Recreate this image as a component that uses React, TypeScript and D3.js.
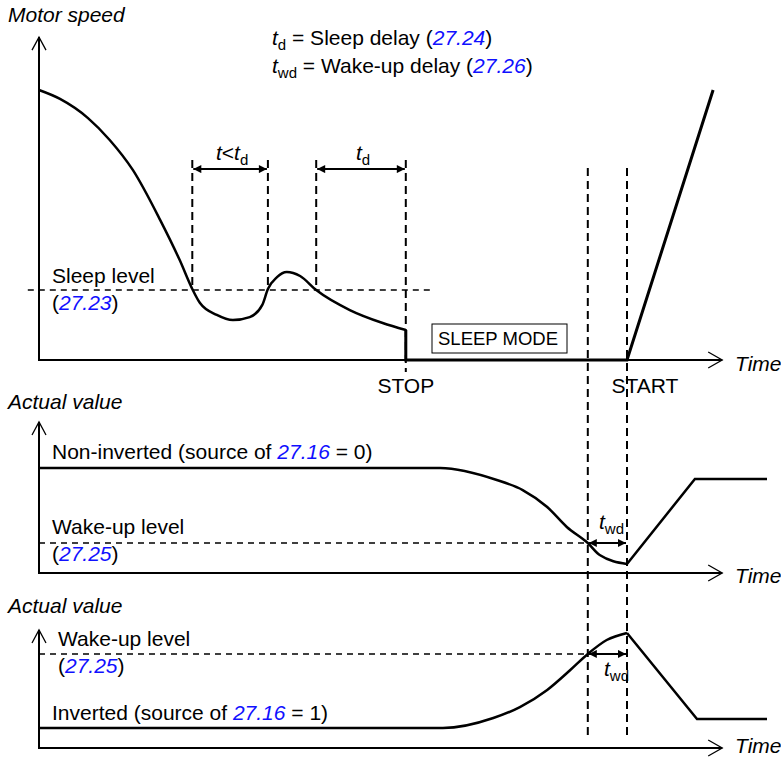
import * as d3 from 'd3';

const W = 781;
const H = 758;
const FONT = "'Liberation Sans', Arial, sans-serif";
const BLUE = '#1010ff';
const FS = 21;
const SUB = 15;

// time axis in arbitrary units (0 = vertical axis)
const timeEnd = 97.6;
const tSleepIn1 = 21.9;
const tSleepOut1 = 32.7;
const tSleepIn2 = 39.6;
const tStop = 52.4;
const tWake = 78.4;
const tStart = 84;

// motor speed (0..100)
const speedT = [0, 3, 7, 10.1, 13.4, 17.3, 20.1, 21.9, 23, 25.4, 27.7, 30.1, 31.9, 32.7, 34, 35.4, 37.3, 39.6, 44.4, 49.1, 52.4];
const speedV = [100, 96.7, 89.6, 81.5, 70.4, 51.9, 37, 26.3, 21.1, 16.7, 14.8, 15.9, 20.4, 26.3, 30.7, 32.6, 31.1, 25.9, 18.5, 13.7, 11.1];
const stopT = [52.4, 52.4, 84, 96.3];
const stopV = [11.1, 0, 0, 100];
const sleepLevel = 25.9;

// actual value, non-inverted
const nonInvT = [0, 57.3, 65.4, 69.1, 72.6, 75.4, 78.4, 80.1, 84];
const nonInvV = [70, 70, 62, 55.3, 44, 30.7, 20, 12, 6];
const nonInvRampT = [84, 93.7, 104];
const nonInvRampV = [6, 62.7, 62.7];
const wakeLevelN = 20;

// actual value, inverted
const invT = [0, 57.7, 64.9, 68.7, 72.6, 75.9, 78.4, 81.1, 84];
const invV = [13.3, 13.3, 20, 27.3, 38.7, 52, 62.7, 72, 76.7];
const invRampT = [84, 94, 104];
const invRampV = [76.7, 19.3, 19.3];
const wakeLevelI = 62.7;

type Sc = d3.ScaleLinear<number, number>;

function Axes({ x, y, yTop }: { x: Sc; y: Sc; yTop: number }) {
  const x0 = x(0), y0 = y(0), yt = y(yTop), xe = x(timeEnd);
  return (
    <g stroke="#000" fill="none">
      <line x1={x0} y1={y0} x2={x0} y2={yt} strokeWidth={2} />
      <line x1={x0 - 1} y1={y0} x2={xe} y2={y0} strokeWidth={2} />
      <polyline points={`${x0 - 7},${yt + 13} ${x0},${yt} ${x0 + 7},${yt + 13}`} strokeWidth={1.3} />
      <polyline points={`${xe - 14},${y0 - 8} ${xe},${y0} ${xe - 14},${y0 + 8}`} strokeWidth={1.3} />
    </g>
  );
}

function Sub({ main, sub, x, y, anchor = 'start' }: { main: string; sub: string; x: number; y: number; anchor?: string }) {
  return (
    <text x={x} y={y} textAnchor={anchor} fontSize={FS}>
      <tspan fontStyle="italic">{main}</tspan>
      <tspan fontSize={SUB} dy={5}>{sub}</tspan>
    </text>
  );
}

export default function App() {
  const x = d3.scaleLinear().domain([0, 100]).range([39, 739]);
  const y1 = d3.scaleLinear().domain([0, 100]).range([360, 90]);
  const y2 = d3.scaleLinear().domain([0, 100]).range([573, 423]);
  const y3 = d3.scaleLinear().domain([0, 100]).range([748, 598]);

  const curve = (ys: Sc) => d3.line<[number, number]>().x(d => x(d[0])).y(d => ys(d[1])).curve(d3.curveMonotoneX);
  const straight = (ys: Sc) => d3.line<[number, number]>().x(d => x(d[0])).y(d => ys(d[1]));
  const zip = (a: number[], b: number[]) => a.map((v, i) => [v, b[i]] as [number, number]);

  const dash = { stroke: '#000', strokeWidth: 1.6, strokeDasharray: '6 5', fill: 'none' };
  const vdash = { stroke: '#000', strokeWidth: 2, strokeDasharray: '8 5', fill: 'none' };
  const dimY = y1(70.7);
  const dimTop = y1(74.1);

  return (
    <svg width={W} height={H} style={{ position: 'absolute', left: 0, top: 0, background: '#fff' }} fontFamily={FONT}>
      <defs>
        <marker id="ah" viewBox="0 0 10 10" refX={10} refY={5} markerWidth={9} markerHeight={8}
          markerUnits="userSpaceOnUse" orient="auto-start-reverse">
          <path d="M0,0 L10,5 L0,10 z" fill="#000" />
        </marker>
      </defs>
      <rect width={W} height={H} fill="#fff" />

      {/* ---------- panel 1: motor speed ---------- */}
      <text x={8} y={22} fontSize={FS} fontStyle="italic">Motor speed</text>
      <text x={272} y={45} fontSize={FS}>
        <tspan fontStyle="italic">t</tspan><tspan fontSize={SUB} dy={5}>d</tspan>
        <tspan dy={-5}> = Sleep delay (</tspan><tspan fill={BLUE} fontStyle="italic">27.24</tspan><tspan>)</tspan>
      </text>
      <text x={272} y={73} fontSize={FS}>
        <tspan fontStyle="italic">t</tspan><tspan fontSize={SUB} dy={5}>wd</tspan>
        <tspan dy={-5}> = Wake-up delay (</tspan><tspan fill={BLUE} fontStyle="italic">27.26</tspan><tspan>)</tspan>
      </text>

      <Axes x={x} y={y1} yTop={119.6} />

      <line x1={x(-1.6)} x2={x(55.9)} y1={y1(sleepLevel)} y2={y1(sleepLevel)} {...dash} />
      {[tSleepIn1, tSleepOut1, tSleepIn2].map((t, i) => (
        <line key={i} x1={x(t)} x2={x(t)} y1={dimTop} y2={y1(sleepLevel)} {...vdash} />
      ))}
      <line x1={x(tStop)} x2={x(tStop)} y1={dimTop} y2={y1(-4.4)} {...vdash} />
      {[tWake, tStart].map((t, i) => (
        <line key={i} x1={x(t)} x2={x(t)} y1={y1(71.1)} y2={y3(5.3)} {...vdash} />
      ))}

      <line x1={x(tSleepIn1) + 1} x2={x(tSleepOut1) - 1} y1={dimY} y2={dimY} stroke="#000" strokeWidth={2}
        markerStart="url(#ah)" markerEnd="url(#ah)" />
      <line x1={x(tSleepIn2) + 1} x2={x(tStop) - 1} y1={dimY} y2={dimY} stroke="#000" strokeWidth={2}
        markerStart="url(#ah)" markerEnd="url(#ah)" />
      <text x={(x(tSleepIn1) + x(tSleepOut1)) / 2 + 2} y={160} textAnchor="middle" fontSize={FS}>
        <tspan fontStyle="italic">t</tspan><tspan>&lt;</tspan><tspan fontStyle="italic">t</tspan>
        <tspan fontSize={SUB} dy={5}>d</tspan>
      </text>
      <Sub main="t" sub="d" x={(x(tSleepIn2) + x(tStop)) / 2 + 2} y={160} anchor="middle" />

      <path d={curve(y1)(zip(speedT, speedV)) ?? ''} fill="none" stroke="#000" strokeWidth={2.5} />
      <path d={straight(y1)(zip(stopT, stopV)) ?? ''} fill="none" stroke="#000" strokeWidth={3} />

      <text x={52} y={283} fontSize={FS}>Sleep level</text>
      <text x={52} y={310} fontSize={FS}>(<tspan fill={BLUE} fontStyle="italic">27.23</tspan>)</text>

      <rect x={432} y={324} width={135} height={29} fill="#fff" stroke="#000" strokeWidth={1} />
      <text x={498} y={345} textAnchor="middle" fontSize={18.5}>SLEEP MODE</text>

      <text x={x(tStop)} y={393} textAnchor="middle" fontSize={FS}>STOP</text>
      <text x={645} y={393} textAnchor="middle" fontSize={FS}>START</text>
      <text x={735} y={371} fontSize={FS} fontStyle="italic">Time</text>

      {/* ---------- panel 2: non-inverted ---------- */}
      <text x={8} y={409} fontSize={FS} fontStyle="italic">Actual value</text>
      <Axes x={x} y={y2} yTop={100.7} />
      <line x1={x(0)} x2={x(tWake)} y1={y2(wakeLevelN)} y2={y2(wakeLevelN)} {...dash} />
      <line x1={x(tWake) + 1} x2={x(tStart) - 1} y1={y2(wakeLevelN)} y2={y2(wakeLevelN)} stroke="#000" strokeWidth={2}
        markerStart="url(#ah)" markerEnd="url(#ah)" />
      <path d={curve(y2)(zip(nonInvT, nonInvV)) ?? ''} fill="none" stroke="#000" strokeWidth={2.5} />
      <path d={straight(y2)(zip(nonInvRampT, nonInvRampV)) ?? ''} fill="none" stroke="#000" strokeWidth={2.5} />
      <text x={52} y={459} fontSize={FS}>
        Non-inverted (source of <tspan fill={BLUE} fontStyle="italic">27.16</tspan> = 0)
      </text>
      <text x={52} y={534} fontSize={FS}>Wake-up level</text>
      <text x={52} y={561} fontSize={FS}>(<tspan fill={BLUE} fontStyle="italic">27.25</tspan>)</text>
      <Sub main="t" sub="wd" x={599} y={529} />
      <text x={735} y={583} fontSize={FS} fontStyle="italic">Time</text>

      {/* ---------- panel 3: inverted ---------- */}
      <text x={8} y={613} fontSize={FS} fontStyle="italic">Actual value</text>
      <Axes x={x} y={y3} yTop={78.7} />
      <line x1={x(0)} x2={x(tWake)} y1={y3(wakeLevelI)} y2={y3(wakeLevelI)} {...dash} />
      <line x1={x(tWake) + 1} x2={x(tStart) - 1} y1={y3(wakeLevelI)} y2={y3(wakeLevelI)} stroke="#000" strokeWidth={2}
        markerStart="url(#ah)" markerEnd="url(#ah)" />
      <path d={curve(y3)(zip(invT, invV)) ?? ''} fill="none" stroke="#000" strokeWidth={2.5} />
      <path d={straight(y3)(zip(invRampT, invRampV)) ?? ''} fill="none" stroke="#000" strokeWidth={2.5} />
      <text x={58} y={646} fontSize={FS}>Wake-up level</text>
      <text x={58} y={673} fontSize={FS}>(<tspan fill={BLUE} fontStyle="italic">27.25</tspan>)</text>
      <text x={52} y={720} fontSize={FS}>
        Inverted (source of <tspan fill={BLUE} fontStyle="italic">27.16</tspan> = 1)
      </text>
      <Sub main="t" sub="wd" x={604} y={676} />
      <text x={735} y={753} fontSize={FS} fontStyle="italic">Time</text>
    </svg>
  );
}
